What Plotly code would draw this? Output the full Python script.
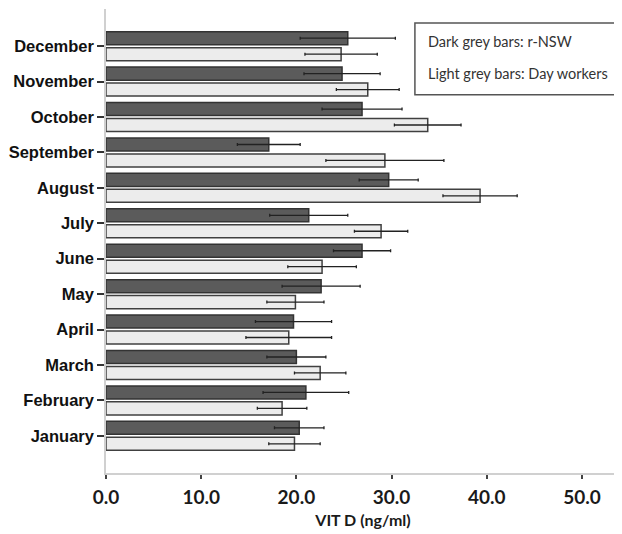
import plotly.graph_objects as go

months = ["January", "February", "March", "April", "May", "June",
          "July", "August", "September", "October", "November", "December"]
rnsw_mean = [20.3, 21.0, 20.0, 19.7, 22.6, 26.9, 21.3, 29.7, 17.1, 26.9, 24.8, 25.4]
rnsw_err = [2.6, 4.5, 3.1, 4.0, 4.1, 3.0, 4.1, 3.1, 3.3, 4.2, 4.0, 5.0]
day_mean = [19.8, 18.5, 22.5, 19.2, 19.9, 22.7, 28.9, 39.3, 29.3, 33.8, 27.5, 24.7]
day_err = [2.7, 2.6, 2.7, 4.5, 3.0, 3.6, 2.8, 3.9, 6.2, 3.5, 3.3, 3.8]
x_ticks = [0, 10, 20, 30, 40, 50]
x_tick_labels = ["0.0", "10.0", "20.0", "30.0", "40.0", "50.0"]

fig = go.Figure()
fig.add_trace(go.Bar(
    y=months, x=day_mean, orientation="h", name="Day workers",
    marker=dict(color="#ececec", line=dict(color="#404040", width=1.5)),
    error_x=dict(type="data", array=day_err, visible=True,
                 color="#222222", thickness=1.3, width=1.5),
))
fig.add_trace(go.Bar(
    y=months, x=rnsw_mean, orientation="h", name="r-NSW",
    marker=dict(color="#5b5b5b", line=dict(color="#333333", width=1.5)),
    error_x=dict(type="data", array=rnsw_err, visible=True,
                 color="#222222", thickness=1.3, width=1.5),
))

# the page body adds an 8px margin, so the figure is sized/offset to fit
fig.update_layout(
    width=614, height=526,
    margin=dict(l=98, r=2, t=1, b=61, autoexpand=False),
    paper_bgcolor="white", plot_bgcolor="white",
    barmode="group", bargap=0.1, bargroupgap=0.18,
    showlegend=False,
    xaxis=dict(
        range=[0, 54], tickvals=x_ticks, ticktext=x_tick_labels,
        showgrid=False, zeroline=False, automargin=False,
        showline=True, linecolor="#d0d0d0", linewidth=1.5,
        ticks="outside", ticklen=4, tickwidth=1.5, tickcolor="#444444",
        ticklabelstandoff=2,
        tickfont=dict(family="Lato", size=19, color="#1a1a1a", weight="bold"),
        title=dict(text="VIT D (ng/ml)", standoff=8,
                   font=dict(family="Lato", size=16, color="#1a1a1a", weight="bold")),
    ),
    yaxis=dict(
        type="category", categoryorder="array", categoryarray=months,
        range=[-1.05, 12.05], automargin=False,
        showgrid=False, zeroline=False,
        showline=True, linecolor="#d0d0d0", linewidth=1.5,
        ticks="outside", ticklen=7, tickwidth=1.5, tickcolor="#333333",
        tickfont=dict(family="Liberation Sans", size=16.5, color="#111111", weight="bold"),
    ),
)

fig.add_shape(type="rect", xref="paper", yref="paper",
              x0=0.601, x1=0.998, y0=0.815, y1=0.970,
              line=dict(color="#555555", width=1.5), fillcolor="white")
fig.add_annotation(xref="paper", yref="paper", x=0.6226, y=0.931,
                   xanchor="left", yanchor="middle", showarrow=False,
                   text="Dark grey bars: r-NSW",
                   font=dict(family="Lato", size=14.5, color="#333333"))
fig.add_annotation(xref="paper", yref="paper", x=0.6226, y=0.862,
                   xanchor="left", yanchor="middle", showarrow=False,
                   text="Light grey bars: Day workers",
                   font=dict(family="Lato", size=14.5, color="#333333"))

fig.write_html("out.html")
